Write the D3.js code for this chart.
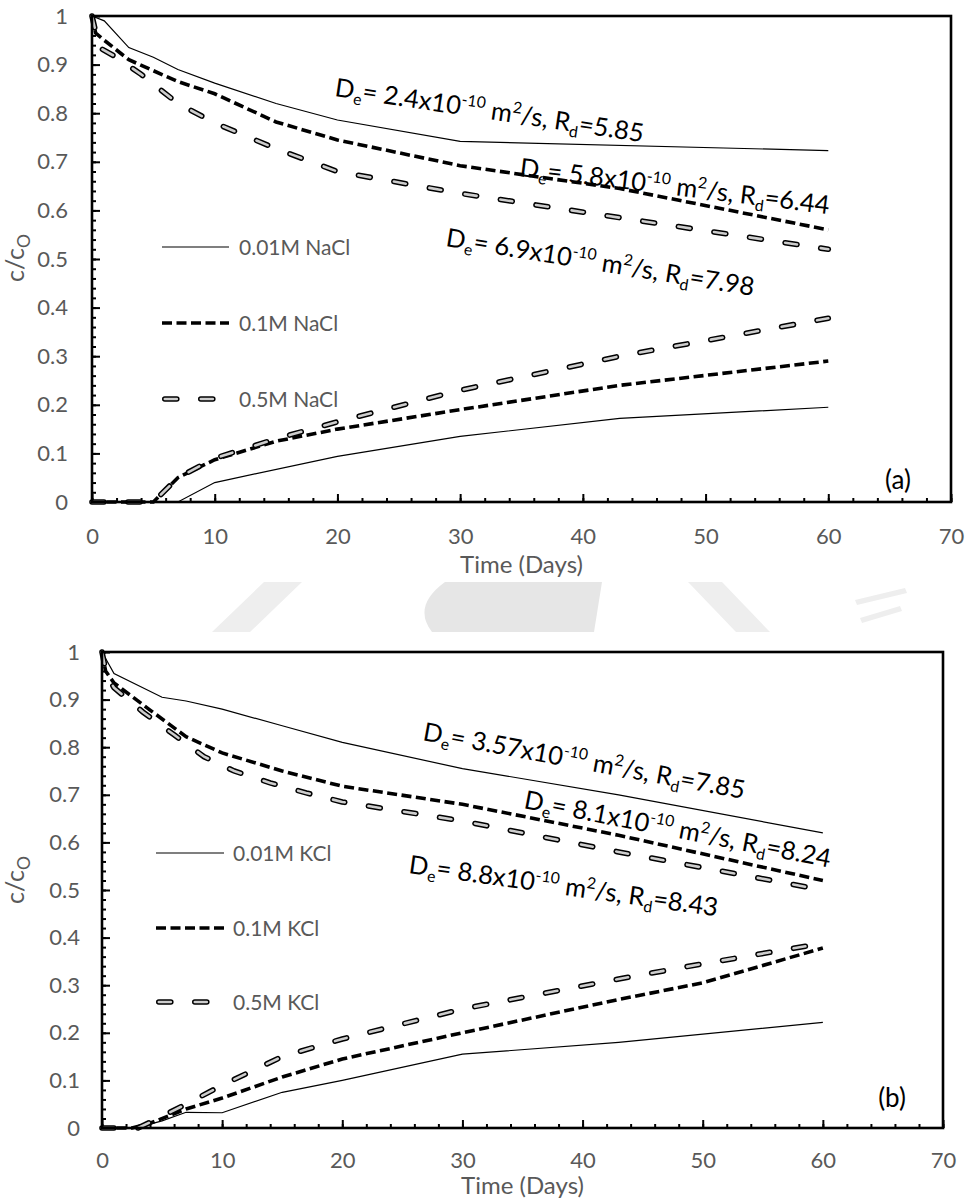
<!DOCTYPE html>
<html>
<head>
<meta charset="utf-8">
<script src="https://cdn.jsdelivr.net/npm/d3@7"></script>
<style>
  html, body { margin: 0; padding: 0; background: #fff; }
  svg { display: block; }
  text { font-family: Lato, "Open Sans", sans-serif; font-style: normal; }
</style>
</head>
<body>
<svg id="chart" width="970" height="1202"></svg>
<script>
// ---------- data: c/c0 against time (days) ----------
// NaCl, source reservoir (decreasing)
const nacl001Source = [[0,1],[1,0.99],[3,0.935],[5,0.915],[7,0.89],[10,0.862],[15,0.82],[20,0.786],[30,0.742],[60,0.723]];
const nacl01Source  = [[0,1],[0.3,0.965],[1,0.95],[3,0.91],[7,0.865],[10,0.84],[15,0.782],[20,0.745],[30,0.692],[43,0.645],[60,0.56]];
const nacl05Source  = [[0,1],[0.6,0.935],[2,0.915],[4,0.88],[7,0.82],[10,0.78],[15,0.727],[20,0.68],[30,0.635],[43,0.585],[60,0.52]];
// NaCl, sink reservoir (increasing)
const nacl001Sink = [[0,0],[7,0],[10,0.04],[20,0.094],[30,0.135],[43,0.172],[60,0.195]];
const nacl01Sink  = [[0,0],[5,0],[7,0.05],[10,0.087],[15,0.125],[20,0.15],[30,0.19],[43,0.24],[60,0.29]];
const nacl05Sink  = [[0,0],[5,0],[7,0.05],[10,0.09],[15,0.13],[20,0.165],[30,0.23],[43,0.3],[60,0.378]];

// KCl, source reservoir (decreasing)
const kcl001Source = [[0,1],[1,0.955],[5,0.905],[7,0.897],[10,0.88],[15,0.845],[20,0.81],[30,0.755],[43,0.7],[60,0.62]];
const kcl01Source  = [[0,1],[0.3,0.96],[1,0.935],[4,0.878],[7,0.822],[10,0.788],[15,0.75],[20,0.718],[30,0.68],[43,0.615],[60,0.52]];
const kcl05Source  = [[0,1],[0.4,0.95],[1,0.925],[3.4,0.874],[6,0.826],[8.5,0.78],[11,0.75],[14,0.725],[17,0.704],[20,0.685],[30,0.645],[43,0.58],[60,0.5]];
// KCl, sink reservoir (increasing)
const kcl001Sink = [[0,0],[3,0],[4,0.008],[5,0.015],[7,0.033],[10,0.032],[15,0.075],[20,0.1],[30,0.155],[43,0.18],[60,0.222]];
const kcl01Sink  = [[0,0],[2.5,0],[4,0.01],[7,0.04],[10,0.063],[15,0.107],[20,0.145],[30,0.2],[43,0.27],[50,0.305],[60,0.378]];
const kcl05Sink  = [[0,0],[3,0],[4,0.012],[7,0.05],[10,0.09],[15,0.15],[20,0.187],[30,0.25],[43,0.313],[50,0.345],[60,0.388]];

// legend entries
const naclLegend = ["0.01M NaCl", "0.1M NaCl", "0.5M NaCl"];
const kclLegend  = ["0.01M KCl", "0.1M KCl", "0.5M KCl"];

// fitted parameters: effective diffusion coefficient (x10^-10 m2/s) and retardation factor
const naclDe = ["2.4", "5.8", "6.9"];
const naclRd = ["5.85", "6.44", "7.98"];
const kclDe  = ["3.57", "8.1", "8.8"];
const kclRd  = ["7.85", "8.24", "8.43"];

// axes
const xTickValues = [0, 10, 20, 30, 40, 50, 60, 70];
const xTickLabels = ["0", "10", "20", "30", "40", "50", "60", "70"];
const yTickValues = [0, 0.1, 0.2, 0.3, 0.4, 0.5, 0.6, 0.7, 0.8, 0.9, 1];
const yTickLabels = ["0", "0.1", "0.2", "0.3", "0.4", "0.5", "0.6", "0.7", "0.8", "0.9", "1"];
const xTitle = "Time (Days)";
const panelTags = ["(a)", "(b)"];

// ---------- drawing ----------
const svg = d3.select("#chart");
const GREY = "#595959";
const FONT = "Lato, 'Open Sans', sans-serif";

// faint watermark fragments in the gap between the two figures
const wm = svg.append("g").attr("fill", "#eeeeee");
wm.append("path").attr("d", "M212,632 L250,632 L302,582 L264,582 Z");
wm.append("path").attr("d", "M445,582 L602,582 L594,632 L432,632 Q412,606 445,582 Z").attr("fill", "#e6e6e6");
wm.append("path").attr("d", "M688,582 L722,582 L770,632 L736,632 Z");
wm.append("path").attr("d", "M855,600 L905,588 L907,593 L857,605 Z");
wm.append("path").attr("d", "M860,618 L900,606 L902,611 L862,623 Z");

const panels = [
  {
    left: 92, top: 16, right: 951, bottom: 502,
    series: [
      { data: nacl001Source, style: "solid" }, { data: nacl01Source, style: "dash" }, { data: nacl05Source, style: "hollow" },
      { data: nacl001Sink, style: "solid" },   { data: nacl01Sink, style: "dash" },   { data: nacl05Sink, style: "hollow" }
    ],
    legend: naclLegend, legendX: 162, legendText: 239, legendY: [247, 323, 399], legendLen: 67,
    de: naclDe, rd: naclRd,
    notes: [ { x: 334, y: 96, a: 8.5 }, { x: 519, y: 176, a: 7.0 }, { x: 445, y: 246, a: 9.2 } ],
    tag: panelTags[0], tagX: 898, tagY: 489,
    xLabelY: 544, xTitleY: 573, yLabelRight: 68, yTitleX: 24, yTitleY: 258
  },
  {
    left: 102, top: 652, right: 943, bottom: 1128,
    series: [
      { data: kcl001Source, style: "solid" }, { data: kcl01Source, style: "dash" }, { data: kcl05Source, style: "hollow" },
      { data: kcl001Sink, style: "solid" },   { data: kcl01Sink, style: "dash" },   { data: kcl05Sink, style: "hollow" }
    ],
    legend: kclLegend, legendX: 156, legendText: 233, legendY: [853, 928, 1002], legendLen: 68,
    de: kclDe, rd: kclRd,
    notes: [ { x: 422, y: 740, a: 10.4 }, { x: 523, y: 808, a: 11.0 }, { x: 408, y: 873, a: 8.0 } ],
    tag: panelTags[1], tagX: 892, tagY: 1107,
    xLabelY: 1168, xTitleY: 1194, yLabelRight: 80, yTitleX: 24, yTitleY: 880
  }
];

function styleLine(sel, style) {
  sel.attr("fill", "none");
  if (style === "solid") {
    sel.attr("stroke", "#000").attr("stroke-width", 1.2);
  } else if (style === "dash") {
    sel.attr("stroke", "#000").attr("stroke-width", 3.6).attr("stroke-dasharray", "10 4.5");
  }
}

function drawSeries(g, pathD, style) {
  if (style === "hollow") {
    g.append("path").attr("d", pathD).attr("fill", "none")
      .attr("stroke", "#000").attr("stroke-width", 5.6)
      .attr("stroke-linecap", "round").attr("stroke-dasharray", "12 24");
    g.append("path").attr("d", pathD).attr("fill", "none")
      .attr("stroke", "#cdcdcd").attr("stroke-width", 2.6)
      .attr("stroke-linecap", "round").attr("stroke-dasharray", "12 24");
  } else {
    g.append("path").attr("d", pathD).call(styleLine, style);
  }
}

function addNote(g, n, de, rd) {
  const t = g.append("text")
    .attr("transform", `translate(${n.x},${n.y}) rotate(${n.a})`)
    .attr("font-size", 25.5).attr("fill", "#000");
  const sub = 5.5, sup = 10;
  t.append("tspan").text("D");
  t.append("tspan").attr("font-size", "0.62em").attr("dy", sub).text("e");
  t.append("tspan").attr("dy", -sub).text("= " + de + "x10");
  t.append("tspan").attr("font-size", "0.62em").attr("dy", -sup).text("-10");
  t.append("tspan").attr("dy", sup).text(" m");
  t.append("tspan").attr("font-size", "0.62em").attr("dy", -sup).text("2");
  t.append("tspan").attr("dy", sup).text("/s, R");
  t.append("tspan").attr("font-size", "0.62em").attr("dy", sub).text("d");
  t.append("tspan").attr("dy", -sub).text("=" + rd);
}

panels.forEach(p => {
  const g = svg.append("g");
  const x = d3.scaleLinear().domain([0, 70]).range([p.left, p.right]);
  const y = d3.scaleLinear().domain([0, 1]).range([p.bottom, p.top]);

  g.append("rect").attr("x", p.left).attr("y", p.top)
    .attr("width", p.right - p.left).attr("height", p.bottom - p.top).attr("fill", "#fff");

  // minor and major ticks, pointing into the plot
  const minorX = d3.range(0, 70.001, 2);
  const minorY = d3.range(0, 1.0001, 0.02);
  const tickStyle = s => {
    s.select(".domain").remove();
    s.selectAll(".tick line").attr("stroke", "#000").attr("stroke-width", 2);
    s.selectAll(".tick text").attr("fill", GREY).attr("font-size", 22).attr("font-family", FONT);
  };
  g.append("g").attr("transform", `translate(0,${p.bottom})`)
    .call(d3.axisBottom(x).tickValues(minorX).tickSize(-4).tickFormat(""))
    .call(tickStyle);
  g.append("g").attr("transform", `translate(${p.left},0)`)
    .call(d3.axisLeft(y).tickValues(minorY).tickSize(-4).tickFormat(""))
    .call(tickStyle);
  g.append("g").attr("transform", `translate(0,${p.bottom})`)
    .call(d3.axisBottom(x).tickValues(xTickValues).tickSize(-8)
      .tickFormat((d, i) => xTickLabels[i]))
    .call(tickStyle)
    .call(s => s.selectAll(".tick text").attr("dy", null).attr("y", p.xLabelY - p.bottom));
  g.append("g").attr("transform", `translate(${p.left},0)`)
    .call(d3.axisLeft(y).tickValues(yTickValues).tickSize(-8)
      .tickFormat((d, i) => yTickLabels[i]).tickPadding(p.left - p.yLabelRight))
    .call(tickStyle);

  // curves
  const line = d3.line().x(d => x(d[0])).y(d => y(d[1]));
  p.series.forEach(s => drawSeries(g, line(s.data), s.style));

  // plot frame
  g.append("rect").attr("x", p.left).attr("y", p.top)
    .attr("width", p.right - p.left).attr("height", p.bottom - p.top)
    .attr("fill", "none").attr("stroke", "#000").attr("stroke-width", 2.6);

  // legend
  ["solid", "dash", "hollow"].forEach((st, i) => {
    const ly = p.legendY[i];
    if (st === "hollow") {
      drawSeries(g, `M${p.legendX + 2.8},${ly}H${p.legendX + 52}`, st);
    } else {
      g.append("path").attr("d", `M${p.legendX},${ly}H${p.legendX + p.legendLen}`).call(styleLine, st);
    }
    g.append("text").attr("x", p.legendText).attr("y", ly).attr("dy", "0.36em")
      .attr("font-size", 21).attr("fill", GREY).text(p.legend[i]);
  });

  // fitted-parameter annotations
  p.notes.forEach((n, i) => addNote(g, n, p.de[i], p.rd[i]));

  // panel tag
  g.append("text").attr("x", p.tagX).attr("y", p.tagY).attr("text-anchor", "middle")
    .attr("font-size", 26).attr("fill", "#000").text(p.tag);

  // axis titles
  g.append("text").attr("x", (p.left + p.right) / 2).attr("y", p.xTitleY)
    .attr("text-anchor", "middle").attr("font-size", 24).attr("fill", GREY).text(xTitle);
  const yt = g.append("text")
    .attr("transform", `translate(${p.yTitleX},${p.yTitleY}) rotate(-90)`)
    .attr("text-anchor", "middle").attr("font-size", 25).attr("fill", GREY);
  yt.append("tspan").text("c/c");
  yt.append("tspan").attr("font-size", "0.7em").attr("dy", 6).text("O");
});
</script>
</body>
</html>
